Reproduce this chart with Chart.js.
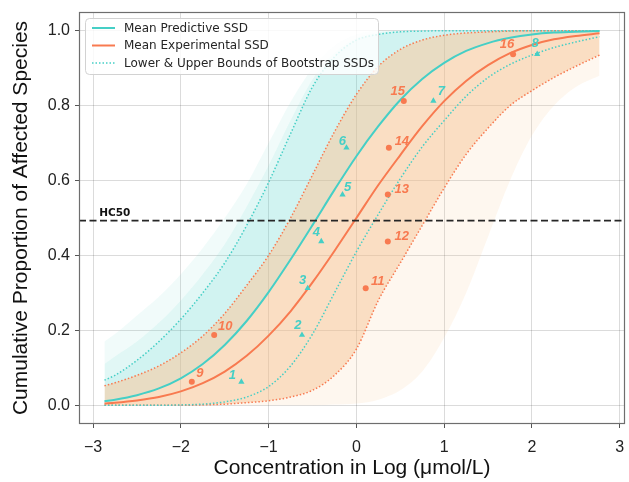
<!DOCTYPE html>
<html>
<head>
<meta charset="utf-8">
<script src="https://cdn.jsdelivr.net/npm/chart.js@4.4.1/dist/chart.umd.min.js"></script>
<style>
html, body { margin: 0; padding: 0; background: #fff; }
</style>
</head>
<body>
<canvas id="ssdChart" width="629" height="482"></canvas>
<script>
// log10 concentration grid where the SSD curves are sampled
var logConc = [-2.87, -2.75, -2.5, -2.25, -2.0, -1.75, -1.5, -1.25, -1.0, -0.75, -0.5, -0.25,
               0, 0.25, 0.5, 0.75, 1.0, 1.25, 1.5, 1.75, 2.0, 2.25, 2.5, 2.77];

// mean SSD curves
var predMean = [0.011, 0.015, 0.027, 0.045, 0.072, 0.110, 0.161, 0.225, 0.302, 0.389, 0.481, 0.575,
                0.665, 0.745, 0.815, 0.871, 0.914, 0.946, 0.967, 0.981, 0.990, 0.995, 0.997, 0.999];
var expMean  = [0.005, 0.007, 0.013, 0.022, 0.037, 0.059, 0.090, 0.132, 0.186, 0.251, 0.328, 0.412,
                0.500, 0.588, 0.668, 0.745, 0.812, 0.866, 0.908, 0.940, 0.962, 0.977, 0.986, 0.993];

// bootstrap bounds (dotted)
var predUpper = [0.067, 0.080, 0.120, 0.170, 0.230, 0.300, 0.380, 0.480, 0.595, 0.725, 0.850, 0.930,
                 0.975, 0.990, 0.997, 0.999, 1, 1, 1, 1, 1, 1, 1, 1];
var predLower = [0, 0, 0, 0, 0.001, 0.003, 0.009, 0.022, 0.050, 0.105, 0.190, 0.300,
                 0.410, 0.510, 0.605, 0.690, 0.760, 0.825, 0.875, 0.910, 0.935, 0.955, 0.970, 0.984];
var expUpper  = [0.052, 0.060, 0.080, 0.105, 0.140, 0.185, 0.245, 0.320, 0.400, 0.500, 0.615, 0.730,
                 0.830, 0.905, 0.950, 0.975, 0.988, 0.994, 0.997, 0.999, 1, 1, 1, 1];
var expLower  = [0, 0, 0, 0, 0, 0.001, 0.003, 0.007, 0.012, 0.022, 0.040, 0.080,
                 0.150, 0.280, 0.380, 0.480, 0.580, 0.670, 0.740, 0.800, 0.840, 0.875, 0.905, 0.935];

// reach of the individual bootstrap curves (outer edge and denser inner part)
var predSpreadTop = [0.17, 0.19, 0.24, 0.29, 0.35, 0.42, 0.50, 0.59, 0.70, 0.81, 0.90, 0.96,
                     0.99, 1, 1, 1, 1, 1, 1, 1, 1, 1, 1, 1];
var predSpreadMid = [0.11, 0.13, 0.17, 0.22, 0.28, 0.35, 0.43, 0.53, 0.64, 0.76, 0.87, 0.94,
                     0.98, 0.995, 1, 1, 1, 1, 1, 1, 1, 1, 1, 1];
var expSpreadBottom = [0, 0, 0, 0, 0, 0, 0, 0, 0, 0, 0, 0.002,
                       0.005, 0.015, 0.04, 0.09, 0.18, 0.30, 0.45, 0.60, 0.72, 0.80, 0.85, 0.88];

// species data points
var predIds = ['1', '2', '3', '4', '5', '6', '7', '8'];
var predX = [-1.31, -0.62, -0.555, -0.40, -0.158, -0.113, 0.877, 2.06];
var predY = [0.0625, 0.1875, 0.3125, 0.4375, 0.5625, 0.6875, 0.8125, 0.9375];
var expIds = ['9', '10', '11', '12', '13', '14', '15', '16'];
var expX = [-1.875, -1.62, 0.106, 0.358, 0.358, 0.37, 0.54, 1.785];
var expY = [0.0625, 0.1875, 0.3125, 0.4375, 0.5625, 0.6875, 0.8125, 0.9375];

var hc50 = 0.493;
var xTicks = [-3, -2, -1, 0, 1, 2, 3];
var yTicks = [0, 0.2, 0.4, 0.6, 0.8, 1.0];

var TEAL = '#45cfc6';
var CORAL = '#f87a50';

// label offsets (px) for the numbered points
var predLabelOff = [[-9, -6], [-4, -10], [-5, -8], [-5, -8.5], [5, -7.5], [-4, -6], [8, -10], [-2, -10.5]];
var expLabelOff  = [[8, -8], [11, -9], [12, -6.5], [14, -5], [14, -5], [13, -6], [-6, -10], [-6, -10]];

function curve(ys) {
  return logConc.map(function(x, i) { return {x: x, y: ys[i]}; });
}
function pts(xs, ys) {
  return xs.map(function(x, i) { return {x: x, y: ys[i]}; });
}

var datasets = [];

function addLine(ys, color, width, dash, order) {
  datasets.push({
    data: curve(ys), borderColor: color, borderWidth: width, borderDash: dash || [],
    pointRadius: 0, fill: false, cubicInterpolationMode: 'monotone', order: order
  });
  return datasets.length - 1;
}

// shaded band between two curves
function addBand(topYs, bottomYs, color, order) {
  var bottom = addLine(bottomYs, 'rgba(0,0,0,0)', 0, null, order);
  datasets.push({
    data: curve(topYs), borderColor: 'rgba(0,0,0,0)', borderWidth: 0, pointRadius: 0,
    backgroundColor: color, fill: {target: bottom}, cubicInterpolationMode: 'monotone', order: order
  });
}

addBand(expLower, expSpreadBottom, 'rgba(245,190,135,0.13)', 30);
addBand(expUpper, expLower, 'rgba(245,190,135,0.5)', 29);
addBand(predSpreadTop, predSpreadMid, 'rgba(80,205,195,0.08)', 27);
addBand(predSpreadMid, predUpper, 'rgba(80,205,195,0.17)', 27);
addBand(predUpper, expUpper, 'rgba(85,210,205,0.27)', 26);
addBand(expUpper, predMean, 'rgba(80,205,195,0.10)', 25);

addLine(predUpper, TEAL, 1.5, [1.5, 2], 5);
addLine(predLower, TEAL, 1.5, [1.5, 2], 5);
addLine(expUpper, CORAL, 1.5, [1.5, 2], 5);
addLine(expLower, CORAL, 1.5, [1.5, 2], 5);
addLine(predMean, TEAL, 2, null, 4);
addLine(expMean, CORAL, 2, null, 4);

// HC50 reference line across the whole axis
datasets.push({
  data: [{x: -3.16, y: hc50}, {x: 3.06, y: hc50}], borderColor: '#262626', borderWidth: 1.8,
  borderDash: [7, 3.5], pointRadius: 0, fill: false, order: 3
});

var predIdx = datasets.length;
datasets.push({
  type: 'scatter', data: pts(predX, predY), pointStyle: 'triangle', pointRadius: 3.6,
  backgroundColor: TEAL, borderColor: TEAL, borderWidth: 0, order: 1
});
var expIdx = datasets.length;
datasets.push({
  type: 'scatter', data: pts(expX, expY), pointStyle: 'circle', pointRadius: 3,
  backgroundColor: CORAL, borderColor: CORAL, borderWidth: 0, order: 1
});

var tickFont = {family: '"Liberation Sans", Arial, sans-serif', size: 16};
var titleFont = {family: '"Liberation Sans", Arial, sans-serif', size: 21, lineHeight: 1.2};

// numbers next to points, HC50 text, frame and legend
var decorations = {
  id: 'decorations',
  afterDatasetsDraw: function(chart) {
    var ctx = chart.ctx, a = chart.chartArea;
    var xs = chart.scales.x, ys = chart.scales.y;
    ctx.save();
    ctx.font = 'bold italic 13px "Liberation Sans", Arial, sans-serif';
    ctx.textAlign = 'center';
    ctx.textBaseline = 'middle';
    [[predIdx, predIds, predLabelOff, TEAL], [expIdx, expIds, expLabelOff, CORAL]].forEach(function(s) {
      var meta = chart.getDatasetMeta(s[0]);
      ctx.fillStyle = s[3];
      meta.data.forEach(function(el, i) {
        ctx.fillText(s[1][i], el.x + s[2][i][0], el.y + s[2][i][1]);
      });
    });
    // HC50 tag
    ctx.font = 'bold 10.5px "DejaVu Sans", sans-serif';
    ctx.textAlign = 'left';
    ctx.textBaseline = 'alphabetic';
    ctx.fillStyle = '#111';
    ctx.fillText('HC50', xs.getPixelForValue(-2.93), ys.getPixelForValue(hc50) - 5);
    // axes frame
    ctx.strokeStyle = '#6e6e6e';
    ctx.lineWidth = 1.2;
    ctx.strokeRect(a.left + 0.5, a.top + 0.5, a.right - a.left - 1, a.bottom - a.top - 1);
    ctx.restore();
  },
  afterDraw: function(chart) {
    var ctx = chart.ctx, a = chart.chartArea;
    var bx = a.left + 6, by = a.top + 6, bw = 293, bh = 56;
    ctx.save();
    ctx.beginPath();
    ctx.roundRect(bx + 0.5, by + 0.5, bw, bh, 4);
    ctx.fillStyle = 'rgba(255,255,255,0.82)';
    ctx.fill();
    ctx.strokeStyle = '#d2d2d2';
    ctx.lineWidth = 1;
    ctx.stroke();
    var rows = [
      ['Mean Predictive SSD', TEAL, []],
      ['Mean Experimental SSD', CORAL, []],
      ['Lower & Upper Bounds of Bootstrap SSDs', TEAL, [1.5, 2]]
    ];
    ctx.font = '12px "DejaVu Sans", sans-serif';
    ctx.textBaseline = 'middle';
    rows.forEach(function(r, i) {
      var y = by + 10 + i * 17.5;
      ctx.beginPath();
      ctx.setLineDash(r[2]);
      ctx.strokeStyle = r[1];
      ctx.lineWidth = r[2].length ? 1.5 : 2;
      ctx.moveTo(bx + 7, y);
      ctx.lineTo(bx + 30, y);
      ctx.stroke();
      ctx.setLineDash([]);
      ctx.fillStyle = '#262626';
      ctx.fillText(r[0], bx + 39, y + 0.5);
    });
    ctx.restore();
  }
};

new Chart(document.getElementById('ssdChart').getContext('2d'), {
  type: 'line',
  data: {datasets: datasets},
  options: {
    responsive: false,
    animation: false,
    layout: {padding: {top: 12, right: 1, left: 0, bottom: 0}},
    plugins: {legend: {display: false}, tooltip: {enabled: false}},
    scales: {
      x: {
        type: 'linear', min: -3.16, max: 3.06,
        afterBuildTicks: function(s) { s.ticks = xTicks.map(function(v) { return {value: v}; }); },
        afterFit: function(s) { s.height = 58; s.paddingLeft = 0; s.paddingRight = 0; },
        ticks: {
          font: tickFont, color: '#222', padding: 10, maxRotation: 0,
          callback: function(v) { return v < 0 ? '\u2212' + Math.abs(v) : String(v); }
        },
        grid: {color: 'rgba(0,0,0,0.14)', lineWidth: 1, tickLength: 4, tickColor: '#555'},
        border: {display: false},
        title: {display: true, text: 'Concentration in Log (\u03bcmol/L)', font: titleFont, color: '#111',
                padding: {top: 0, bottom: 1}}
      },
      y: {
        type: 'linear', min: -0.05, max: 1.05,
        afterBuildTicks: function(s) { s.ticks = yTicks.map(function(v) { return {value: v}; }); },
        afterFit: function(s) { s.width = 79; s.paddingTop = 0; s.paddingBottom = 0; },
        ticks: {
          font: tickFont, color: '#222', padding: 5,
          callback: function(v) { return v.toFixed(1); }
        },
        grid: {color: 'rgba(0,0,0,0.14)', lineWidth: 1, tickLength: 4, tickColor: '#555'},
        border: {display: false},
        title: {display: true, text: 'Cumulative Proportion of Affected Species', font: titleFont, color: '#111',
                padding: {top: 9, bottom: 0}}
      }
    }
  },
  plugins: [decorations]
});
</script>
</body>
</html>
